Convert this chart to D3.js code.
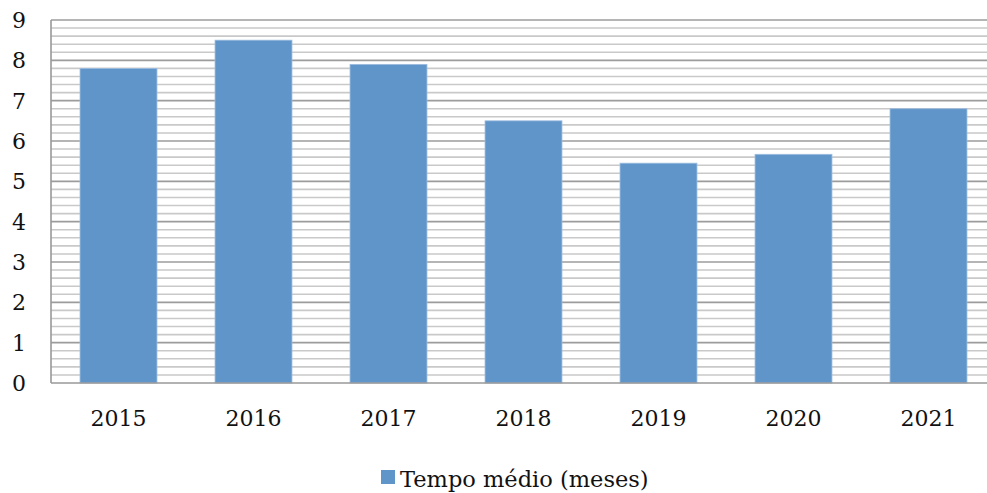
<!DOCTYPE html>
<html>
<head>
<meta charset="utf-8">
<script src="https://cdn.jsdelivr.net/npm/d3@7"></script>
<style>
  body { margin: 0; background: #fff; }
  svg { display: block; font-family: "DejaVu Serif", "Liberation Serif", serif; }
</style>
</head>
<body>
<svg width="987" height="493"></svg>
<script>
// data
var years = ["2015", "2016", "2017", "2018", "2019", "2020", "2021"];
var tempoMedio = [7.8, 8.5, 7.9, 6.5, 5.45, 5.67, 6.8];
var yTicks = [0, 1, 2, 3, 4, 5, 6, 7, 8, 9];
var seriesName = "Tempo médio (meses)";

var svg = d3.select("svg");

var plotLeft = 51, plotRight = 996, plotTop = 20, plotBottom = 383;

var x = d3.scaleBand()
    .domain(years)
    .range([plotLeft, plotRight])
    .paddingInner(0.43)
    .paddingOuter(0.215);

var y = d3.scaleLinear()
    .domain([0, 9])
    .range([plotBottom, plotTop]);

// minor gridlines every 0.2
var minor = d3.range(1, 45).filter(function(i) { return i % 5 != 0; }).map(function(i) { return i / 5; });
svg.append("g").selectAll("line")
    .data(minor)
    .enter().append("line")
      .attr("x1", plotLeft).attr("x2", plotRight)
      .attr("y1", function(d) { return y(d); })
      .attr("y2", function(d) { return y(d); })
      .attr("stroke", "#c9c9c9")
      .attr("stroke-width", 1.6);

// major gridlines
svg.append("g").selectAll("line")
    .data(yTicks.filter(function(d) { return d > 0; }))
    .enter().append("line")
      .attr("x1", plotLeft).attr("x2", plotRight)
      .attr("y1", function(d) { return y(d); })
      .attr("y2", function(d) { return y(d); })
      .attr("stroke", "#9c9c9c")
      .attr("stroke-width", 1.6);

// bars
svg.append("g").selectAll("rect")
    .data(tempoMedio)
    .enter().append("rect")
      .attr("x", function(d, i) { return x(years[i]); })
      .attr("y", function(d) { return y(d); })
      .attr("width", x.bandwidth())
      .attr("height", function(d) { return y(0) - y(d); })
      .attr("fill", "#5f95c8")
      .attr("stroke", "#9dbde0")
      .attr("stroke-width", 0.8);

// axes lines
svg.append("line")
    .attr("x1", plotLeft).attr("x2", plotLeft)
    .attr("y1", plotTop).attr("y2", plotBottom)
    .attr("stroke", "#999").attr("stroke-width", 1.6);
svg.append("line")
    .attr("x1", plotLeft).attr("x2", plotRight)
    .attr("y1", plotBottom).attr("y2", plotBottom)
    .attr("stroke", "#999").attr("stroke-width", 1.6);

// y labels
svg.append("g").selectAll("text")
    .data(yTicks)
    .enter().append("text")
      .attr("x", 19)
      .attr("y", function(d) { return y(d) + 8; })
      .attr("text-anchor", "middle")
      .attr("font-size", 22)
      .attr("fill", "#111")
      .text(function(d) { return d; });

// x labels
svg.append("g").selectAll("text")
    .data(years)
    .enter().append("text")
      .attr("x", function(d) { return x(d) + x.bandwidth() / 2; })
      .attr("y", 426)
      .attr("text-anchor", "middle")
      .attr("font-size", 22)
      .attr("fill", "#111")
      .text(function(d) { return d; });

// legend
var lg = svg.append("g");
lg.append("rect")
    .attr("x", 381).attr("y", 470)
    .attr("width", 14).attr("height", 14)
    .attr("fill", "#5f95c8");
lg.append("text")
    .attr("x", 400).attr("y", 487)
    .attr("font-size", 22.5)
    .attr("fill", "#111")
    .text(seriesName);
</script>
</body>
</html>
